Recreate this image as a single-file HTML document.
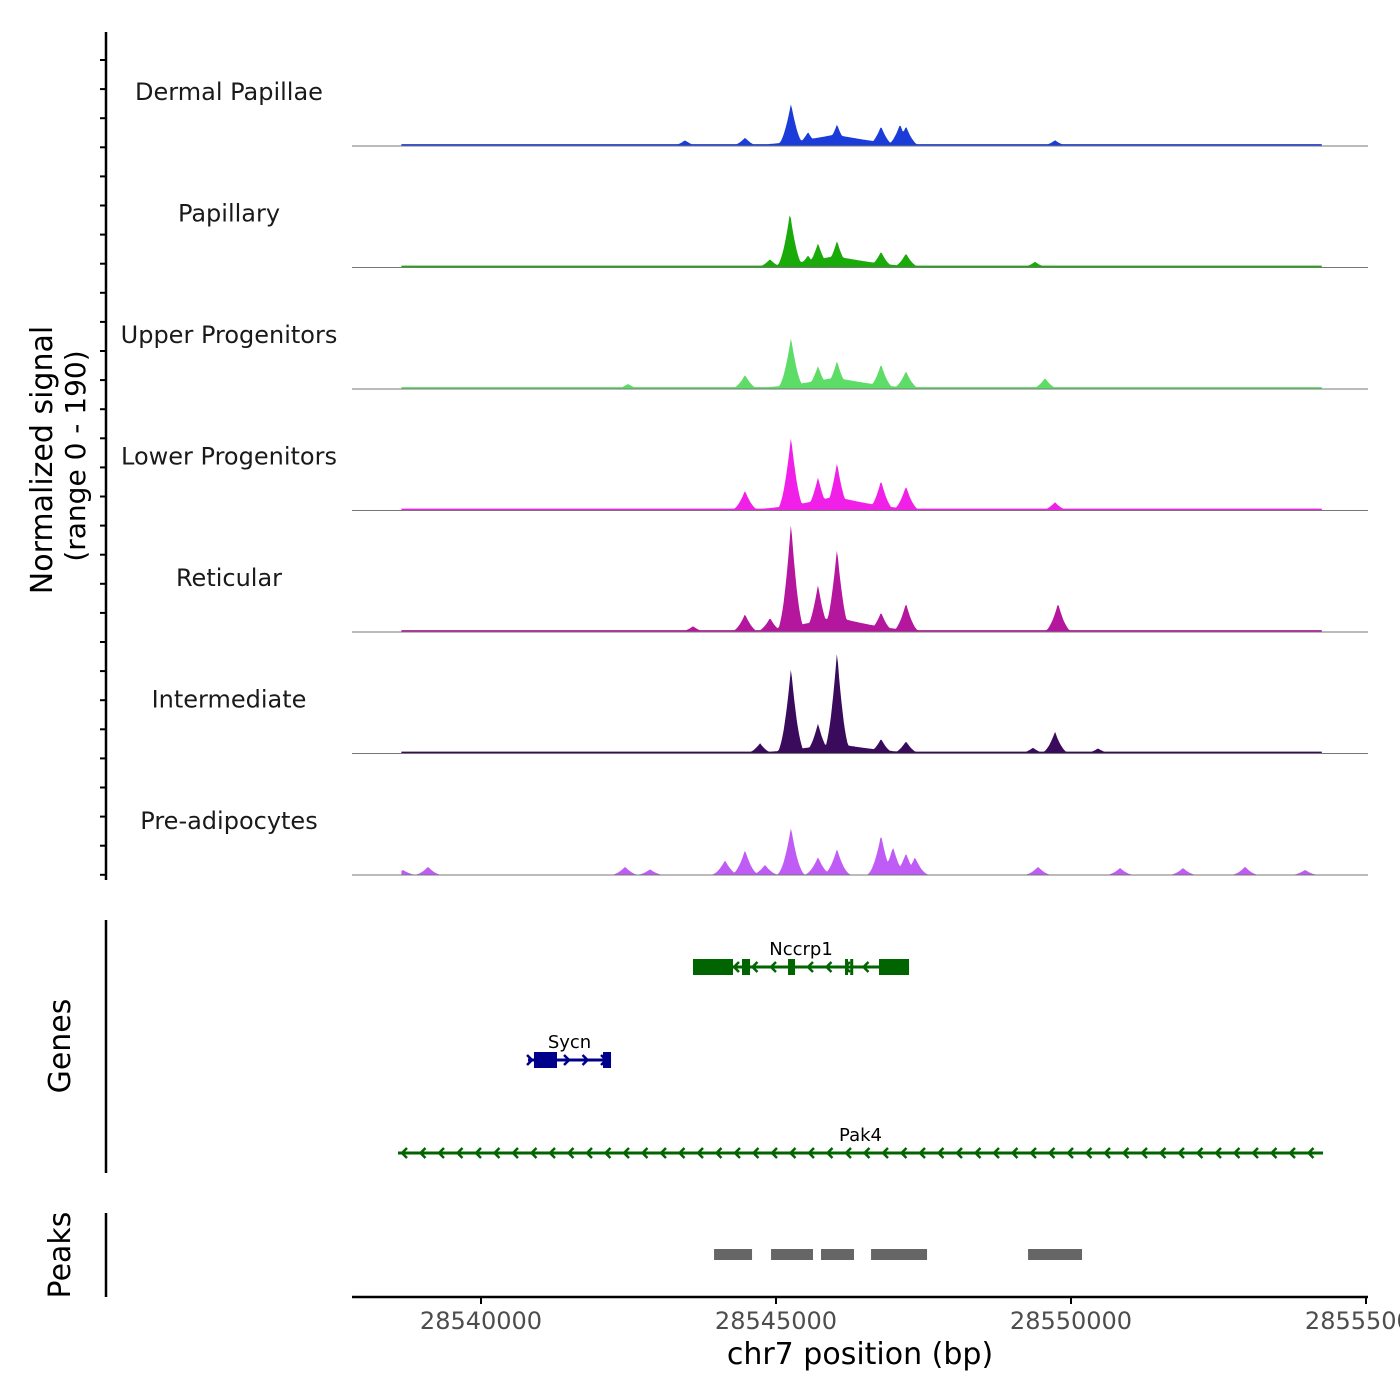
<!DOCTYPE html>
<html><head><meta charset="utf-8"><style>
body{margin:0;background:#fff}
svg{display:block;font-family:"DejaVu Sans","Liberation Sans",sans-serif}
</style></head><body>
<svg id="c" width="1400" height="1400" viewBox="0 0 1400 1400"></svg>
<script>
const trackNames=["Dermal Papillae","Papillary","Upper Progenitors","Lower Progenitors","Reticular","Intermediate","Pre-adipocytes"];
const trackColors=["#1b3cd8","#1aaa0a","#5ddc68","#f020e8","#b5169e","#3a0a5c","#bf5cf5"];
const dpPos=[28545254,28546034,28545542,28546780,28547102,28547203,28544475,28543458,28549729,28546000];
const dpVal=[67,34,22,31,34,31,13,9,9,18];
const papPos=[28545237,28545712,28546034,28545542,28546780,28547203,28549390,28544899,28546000];
const papVal=[86,38,42,19,25,22,9,13,18];
const upPos=[28545254,28545712,28546034,28546780,28547203,28544475,28549560,28542492,28546000];
const upVal=[81,36,44,39,28,22,17,8,18];
const lowPos=[28545254,28545712,28546034,28546780,28547203,28544475,28549729,28546000];
const lowVal=[116,52,75,47,38,31,13,22];
const retPos=[28545254,28545712,28546034,28546780,28547203,28544475,28549780,28544899,28543593,28546000];
const retVal=[172,74,131,31,45,28,45,22,9,24];
const intPos=[28545254,28545712,28546034,28546780,28547203,28544729,28549729,28549356,28550458,28546000];
const intVal=[135,47,160,23,19,16,34,9,8,16];
const prePos=[28545254,28546034,28545712,28546780,28546983,28547203,28547356,28544475,28544136,28544814,28538678,28539102,28542441,28542865,28549441,28550831,28551899,28552950,28553967];
const preVal=[75,41,28,63,44,34,28,39,23,16,8,13,13,9,13,11,11,13,8];
const trackPos=[dpPos,papPos,upPos,lowPos,retPos,intPos,prePos];
const trackVal=[dpVal,papVal,upVal,lowVal,retVal,intVal,preVal];
const baseVal=[3,3,3,3,3,3,0];
const xTicks=[28540000,28545000,28550000,28555000];
const geneNames=["Nccrp1","Sycn","Pak4"];
const geneStart=[28543593,28540797,28538593];
const geneEnd=[28547255,28542204,28554272];
const geneStrand=[-1,1,-1];
const geneColor=["#006400","#00008b","#006400"];
const nccrpExons=[[28543593,28544271],[28544424,28544560],[28545204,28545322],[28546170,28546200],[28546258,28546288],[28546746,28547255]];
const sycnExons=[[28540898,28541288],[28542068,28542204]];
const peakStart=[28543950,28544916,28545763,28546611,28549272];
const peakEnd=[28544594,28545627,28546322,28547560,28550187];

const NS="http://www.w3.org/2000/svg";
const svg=document.getElementById('c');
function el(t,a,p){const e=document.createElementNS(NS,t);for(const k in a)e.setAttribute(k,a[k]);(p||svg).appendChild(e);return e;}
const X=bp=>481+(bp-28540000)*0.059;
const trackH=121.5, firstBase=146;
const Y=(i,v)=>firstBase+i*trackH - v*(121.5/190);
const dStart=28538650,dEnd=28554250,hw=260;

for(let i=0;i<7;i++){
  let pts=[];
  for(let bp=dStart;bp<=dEnd;bp+=20){
    let v=baseVal[i];
    const P=trackPos[i],V=trackVal[i];
    for(let k=0;k<P.length;k++){
      const w=(k===P.length-1&&i<6)?1900:hw;
      const r=Math.abs(bp-P[k])/w;
      const t=V[k]*Math.max(0,1-r)*Math.max(0,1-r);
      if(t>v)v=t;
    }
    pts.push(X(bp).toFixed(1)+","+Y(i,v).toFixed(1));
  }
  const base=firstBase+i*trackH;
  const a=el('polygon',{points:X(dStart)+","+base+" "+pts.join(" ")+" "+X(dEnd)+","+base,fill:trackColors[i]});
  
  
  const l=el('line',{x1:352,x2:1368,y1:base,y2:base,stroke:'#777','stroke-width':1});
  
  
  const tx=el('text',{x:229,y:base-46,'text-anchor':'middle','font-size':24,fill:'#1a1a1a'});
  tx.textContent=trackNames[i];
  
  
}
let ax=el('line',{x1:106,x2:106,y1:32,y2:880,stroke:'#000','stroke-width':2.5});


for(let y=60;y<=880;y+=29.1){const t=el('line',{x1:100,x2:106,y1:y,y2:y,stroke:'#000','stroke-width':2});}
let yt=el('text',{transform:'translate(52,460) rotate(-90)','text-anchor':'middle','font-size':30,fill:'#000'});
yt.textContent='Normalized signal';


let yt2=el('text',{transform:'translate(85,456) rotate(-90)','text-anchor':'middle','font-size':28,fill:'#000'});
yt2.textContent='(range 0 - 190)';



const gy=[967,1060,1153];
for(let g=0;g<3;g++){
  const grp=el('g',{});
  
  
  el('line',{x1:X(geneStart[g]),x2:X(geneEnd[g]),y1:gy[g],y2:gy[g],stroke:geneColor[g],'stroke-width':3},grp);
  const x0=X(geneStart[g]),x1=X(geneEnd[g]);
  for(let x=x0+4;x<x1-2;x+=18.5){
    const d=-geneStrand[g];
    el('polyline',{points:(x+5*d)+","+(gy[g]-5)+" "+x+","+gy[g]+" "+(x+5*d)+","+(gy[g]+5),fill:'none',stroke:geneColor[g],'stroke-width':2.5},grp);
  }
  const ex=g===0?nccrpExons:(g===1?sycnExons:[]);
  for(const e of ex) el('rect',{x:X(e[0]),y:gy[g]-8,width:Math.max(3,X(e[1])-X(e[0])),height:16,fill:geneColor[g]},grp);
  const t=el('text',{x:(x0+x1)/2,y:gy[g]-12,'text-anchor':'middle','font-size':18,fill:'#000'},grp);
  t.textContent=geneNames[g];
}
ax=el('line',{x1:106,x2:106,y1:920,y2:1173,stroke:'#000','stroke-width':2.5});


yt=el('text',{transform:'translate(70,1046) rotate(-90)','text-anchor':'middle','font-size':30,fill:'#000'});
yt.textContent='Genes';



for(let k=0;k<peakStart.length;k++){
  const r=el('rect',{x:X(peakStart[k]),y:1249,width:X(peakEnd[k])-X(peakStart[k]),height:11,fill:'#666'});
  
  
}
ax=el('line',{x1:106,x2:106,y1:1213,y2:1297,stroke:'#000','stroke-width':2.5});


yt=el('text',{transform:'translate(70,1255) rotate(-90)','text-anchor':'middle','font-size':30,fill:'#000'});
yt.textContent='Peaks';



ax=el('line',{x1:352,x2:1368,y1:1297,y2:1297,stroke:'#000','stroke-width':2.5});


for(const t of xTicks){
  const tk=el('line',{x1:X(t),x2:X(t),y1:1297,y2:1304,stroke:'#000','stroke-width':2});
  
  
  const lb=el('text',{x:X(t),y:1329,'text-anchor':'middle','font-size':24,fill:'#4d4d4d'});
  lb.textContent=String(t);
  
  
}
const xt=el('text',{x:860,y:1364,'text-anchor':'middle','font-size':30,fill:'#000'});
xt.textContent='chr7 position (bp)';


</script>
</body></html>
